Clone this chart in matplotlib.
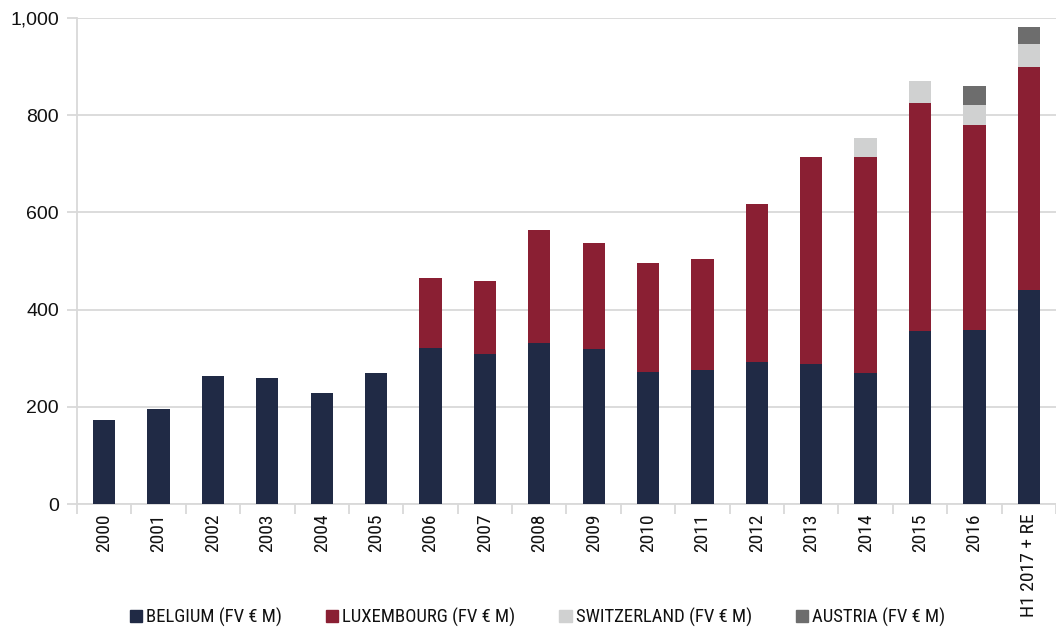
import numpy as np
import matplotlib
matplotlib.use('Agg')
import matplotlib.pyplot as plt
from matplotlib.patches import Patch

plt.rcParams['font.family'] = ['Liberation Sans', 'DejaVu Sans']
narrow = ['Roboto Condensed', 'DejaVu Sans']

categories = ['2000', '2001', '2002', '2003', '2004', '2005', '2006', '2007', '2008',
              '2009', '2010', '2011', '2012', '2013', '2014', '2015', '2016', 'H1 2017 + RE']
belgium = [173, 195, 263, 260, 228, 270, 322, 309, 332, 319, 272, 276, 293, 289, 270, 355, 358, 440]
luxembourg = [0, 0, 0, 0, 0, 0, 144, 150, 231, 218, 223, 229, 325, 426, 445, 470, 421, 460]
switzerland = [0, 0, 0, 0, 0, 0, 0, 0, 0, 0, 0, 0, 0, 0, 39, 45, 42, 46]
austria = [0, 0, 0, 0, 0, 0, 0, 0, 0, 0, 0, 0, 0, 0, 0, 0, 40, 35]

series = [
    ('BELGIUM (FV € M)', belgium, '#202a45'),
    ('LUXEMBOURG (FV € M)', luxembourg, '#8a1f33'),
    ('SWITZERLAND (FV € M)', switzerland, '#d0d1d1'),
    ('AUSTRIA (FV € M)', austria, '#6d6d6d'),
]

fig = plt.figure(figsize=(10.56, 6.29), dpi=100)
ax = fig.add_axes([0.0729, 0.1987, 0.9271, 0.7727])

x = np.arange(len(categories))
bottom = np.zeros(len(categories))
for name, vals, col in series:
    vals = np.array(vals, dtype=float)
    ax.bar(x, vals, width=0.41, bottom=bottom, color=col, edgecolor='none', zorder=3)
    bottom += vals

grid_col = '#d9d9d9'
ax.set_ylim(0, 1000)
ax.set_xlim(-0.5, len(categories) - 0.5)
ax.set_yticks(range(0, 1001, 200))
ax.set_yticklabels(['0', '200', '400', '600', '800', '1,000'], fontsize=14)
ax.yaxis.grid(True, color=grid_col, linewidth=1.3, zorder=0)
ax.tick_params(axis='y', length=7, color=grid_col, width=1.3, pad=6, labelcolor='#111111')

ax.set_xticks(x)
ax.set_xticklabels(categories, rotation=90, fontsize=14, family=narrow)
ax.set_xticks(np.arange(-0.5, len(categories), 1), minor=True)
ax.tick_params(axis='x', which='major', length=0, pad=7, labelcolor='#111111')
ax.tick_params(axis='x', which='minor', length=7, color=grid_col, width=1.3)

for s in ['top', 'right']:
    ax.spines[s].set_visible(False)
for s in ['left', 'bottom']:
    ax.spines[s].set_color(grid_col)
    ax.spines[s].set_linewidth(1.3)

handles = [Patch(color=col, label=name) for name, vals, col in series]
fig.legend(handles=handles, loc='center', bbox_to_anchor=(0.509, 0.019), ncol=4,
           frameon=False, prop={'family': narrow, 'size': 13.5},
           handlelength=0.65, handleheight=0.65, handletextpad=0.22,
           columnspacing=2.34, labelcolor='#111111', borderpad=0, borderaxespad=0)

fig.savefig('out.png', dpi=100)
